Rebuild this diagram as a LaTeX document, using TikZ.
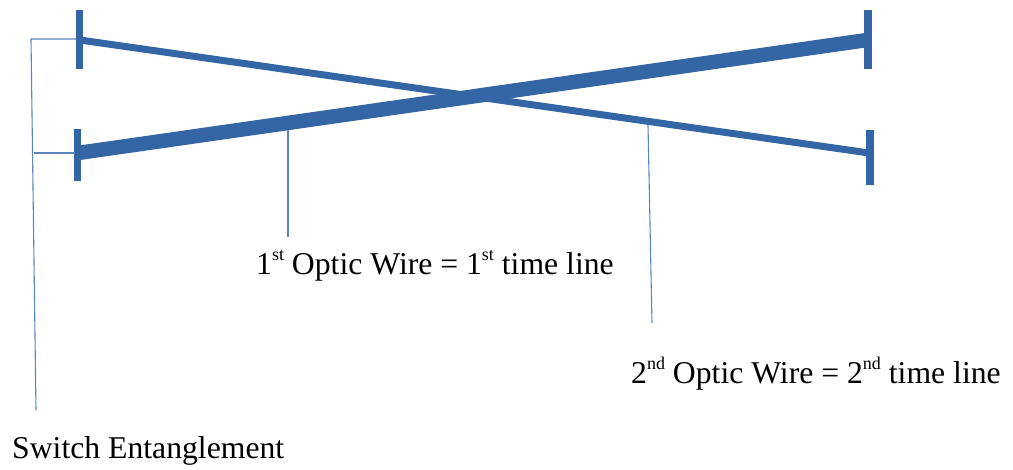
\documentclass[tikz,border=0pt]{standalone}
\usepackage{fontspec}
\setmainfont{Liberation Serif}
\definecolor{wireblue}{HTML}{3465A4}
\definecolor{leaderblue}{HTML}{5A85BF}
\newcommand{\supsm}[1]{\raisebox{0.42em}{\fontsize{18}{20}\selectfont #1}}
\begin{document}
\begin{tikzpicture}[x=1pt,y=-1pt,
  bar/.style={draw=wireblue,line width=7.5pt},
  thinwire/.style={draw=wireblue,line width=7pt},
  thickwire/.style={draw=wireblue,line width=14.5pt},
  leader/.style={draw=leaderblue,line width=1.1pt},
  lbl/.style={anchor=base west,inner sep=0pt,font=\fontsize{31.7}{38}\selectfont}]
\useasboundingbox (0,0) rectangle (1013,469);
% bar ends
\coordinate (tl1) at (79.5,10);  \coordinate (tl2) at (79.5,69);
\coordinate (bl1) at (77.5,129); \coordinate (bl2) at (77.5,181);
\coordinate (tr1) at (868,10);   \coordinate (tr2) at (868,69);
\coordinate (br1) at (870,130);  \coordinate (br2) at (870,185);
% wire ends
\coordinate (w1a) at (80,40);   \coordinate (w1b) at (869,153);
\coordinate (w2a) at (78,153);  \coordinate (w2b) at (867,40);
% wires
\draw[thickwire] (w2a) -- (w2b);
\draw[thinwire] (w1a) -- (w1b);
% bars
\draw[bar] (tl1) -- (tl2);
\draw[bar] (bl1) -- (bl2);
\draw[bar] (tr1) -- (tr2);
\draw[bar] (br1) -- (br2);
% labels
\node[lbl] (se) at (12,458) {Switch Entanglement};
\node[lbl] (ow1) at (256,274) {1\supsm{st} Optic Wire = 1\supsm{st} time line};
\node[lbl] (ow2) at (631,383) {2\supsm{nd} Optic Wire = 2\supsm{nd} time line};
% leader points
\coordinate (sa) at (76,39);  \coordinate (sk) at (31,39); \coordinate (se0) at (36,410);
\coordinate (sb) at (75,153); \coordinate (sb0) at (34,153);
\coordinate (o1a) at (288,130); \coordinate (o1b) at (288,237);
\coordinate (o2a) at (648,125); \coordinate (o2b) at (652,323);
\draw[leader] (sa) -- (sk) -- (se0);
\draw[leader] (sb) -- (sb0);
\draw[leader] (o1a) -- (o1b);
\draw[leader] (o2a) -- (o2b);
\end{tikzpicture}
\end{document}
